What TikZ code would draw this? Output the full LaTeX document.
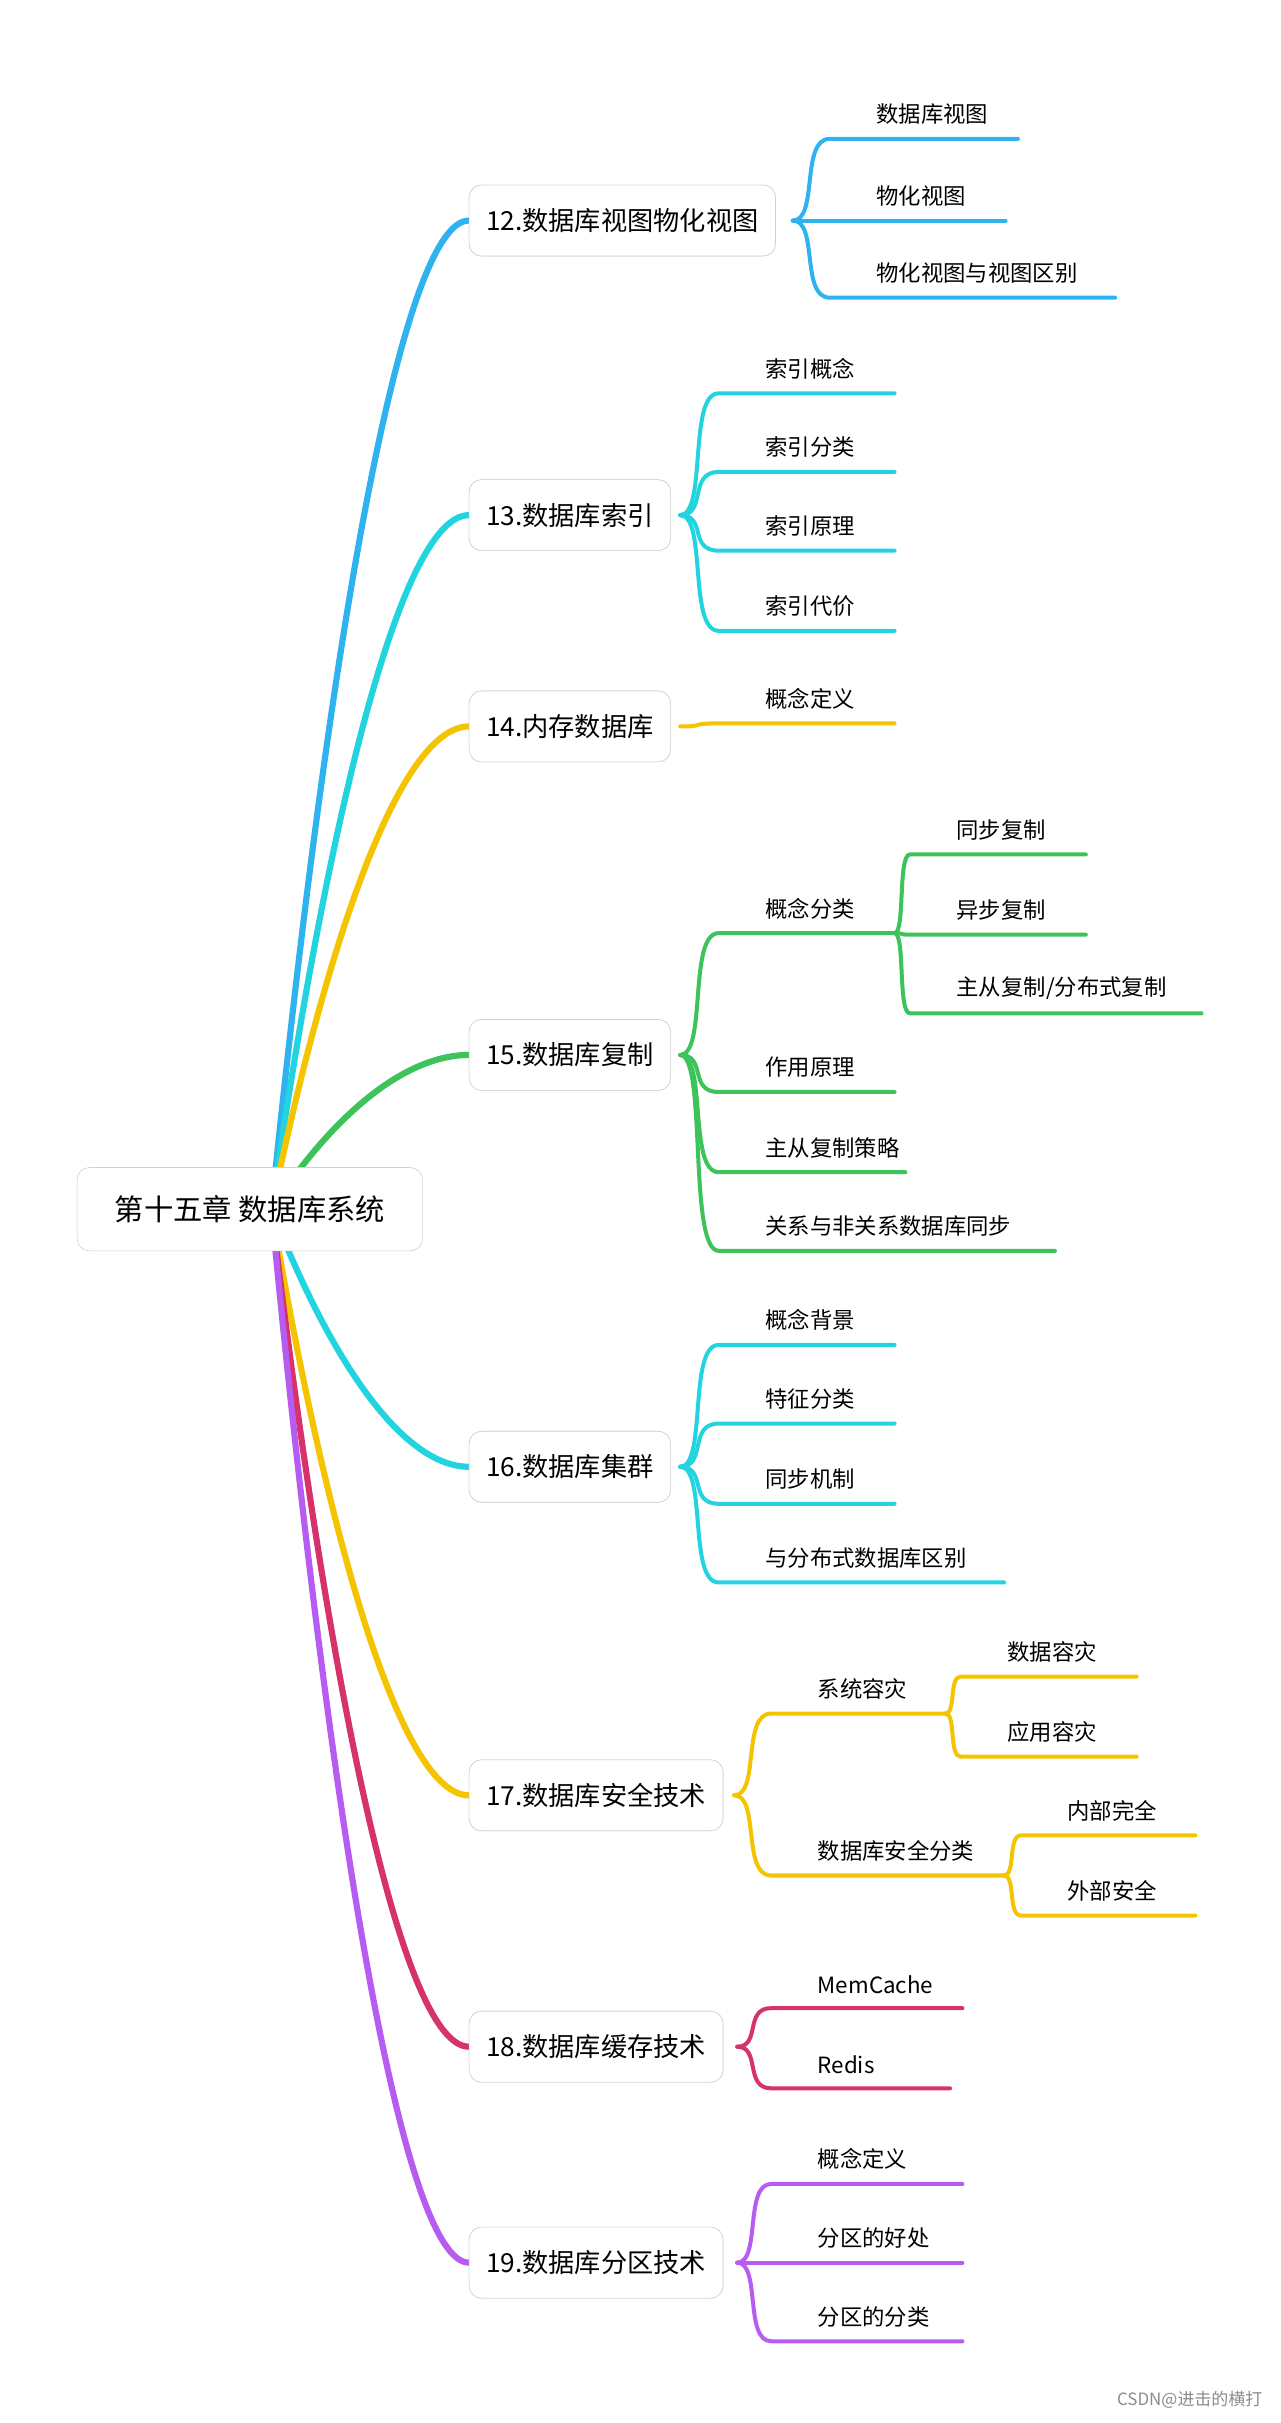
\documentclass[tikz,border=0pt]{standalone}
\usepackage{fontspec}
\setmainfont{Noto Sans CJK SC}
\begin{document}
\begin{tikzpicture}[x=1pt,y=-1pt,
  l1/.style={draw=black!18,fill=white,rounded corners=8pt,minimum height=46pt,inner xsep=11pt,anchor=west,font=\fontsize{17}{20}\selectfont},
  rootbox/.style={draw=black!18,fill=white,rounded corners=8pt,minimum height=54pt,minimum width=224pt,font=\fontsize{19}{22}\selectfont},
  kidtxt/.style={anchor=south west,inner sep=0pt,font=\fontsize{14.5}{17}\selectfont},
  mainline/.style={line width=4pt,line cap=round},
  kidline/.style={line width=2.6pt,line cap=round}]
\definecolor{cblue}{HTML}{2EB3F0}
\definecolor{ccyan}{HTML}{22D3E0}
\definecolor{cyel}{HTML}{F5C400}
\definecolor{cgreen}{HTML}{3CC35A}
\definecolor{cred}{HTML}{D6336C}
\definecolor{cpur}{HTML}{B75CF0}
\useasboundingbox (0,0) rectangle (830,1571);
\fill[white] (0,0) rectangle (830,1571);
% kid: color, px, py, cx, cy, ex, text
\newcommand\kid[7]{%
 \draw[#1,kidline] (#2,#3) .. controls ({#2+0.7*(#4-#2)},#3) and ({#2+0.2*(#4-#2)},#5) .. (#4,#5) -- (#6,#5);
 \node[kidtxt] at ({#4+30},{#5-9}) {#7};}
\coordinate (rs) at (176,784);
\newcommand\mainbr[3]{%
 \draw[#1,mainline] (rs) .. controls (215,{784+0.6*(#2-784)}) and (262,#2) .. (#3.west);}
\path (304,143) node[l1] (n12) {12.数据库视图物化视图}
      (304,334) node[l1] (n13) {13.数据库索引}
      (304,471) node[l1] (n14) {14.内存数据库}
      (304,684) node[l1] (n15) {15.数据库复制}
      (304,951) node[l1] (n16) {16.数据库集群}
      (304,1164) node[l1] (n17) {17.数据库安全技术}
      (304,1327) node[l1] (n18) {18.数据库缓存技术}
      (304,1467) node[l1] (n19) {19.数据库分区技术};
\mainbr{cblue}{143}{n12}
\mainbr{ccyan}{334}{n13}
\mainbr{cyel}{471}{n14}
\mainbr{cgreen}{684}{n15}
\mainbr{ccyan}{951}{n16}
\mainbr{cyel}{1164}{n17}
\mainbr{cred}{1327}{n18}
\mainbr{cpur}{1467}{n19}
\node[rootbox] (root) at (162,784) {第十五章 数据库系统};
\path (304,143) node[l1] {12.数据库视图物化视图}
      (304,334) node[l1] {13.数据库索引}
      (304,471) node[l1] {14.内存数据库}
      (304,684) node[l1] {15.数据库复制}
      (304,951) node[l1] {16.数据库集群}
      (304,1164) node[l1] {17.数据库安全技术}
      (304,1327) node[l1] {18.数据库缓存技术}
      (304,1467) node[l1] {19.数据库分区技术};
% 12
\kid{cblue}{514}{143}{538}{90}{660}{数据库视图}
\kid{cblue}{514}{143}{538}{143}{652}{物化视图}
\kid{cblue}{514}{143}{538}{193}{723}{物化视图与视图区别}
% 13
\kid{ccyan}{441}{334}{466}{255}{580}{索引概念}
\kid{ccyan}{441}{334}{466}{306}{580}{索引分类}
\kid{ccyan}{441}{334}{466}{357}{580}{索引原理}
\kid{ccyan}{441}{334}{466}{409}{580}{索引代价}
% 14
\kid{cyel}{441}{471}{466}{469}{580}{概念定义}
% 15
\kid{cgreen}{441}{684}{466}{605}{580}{概念分类}
\kid{cgreen}{441}{684}{466}{708}{580}{作用原理}
\kid{cgreen}{441}{684}{466}{760}{587}{主从复制策略}
\kid{cgreen}{441}{684}{466}{811}{684}{关系与非关系数据库同步}
\kid{cgreen}{580}{605}{590}{554}{704}{同步复制}
\kid{cgreen}{580}{605}{590}{606}{704}{异步复制}
\kid{cgreen}{580}{605}{590}{657}{779}{主从复制/分布式复制}
% 16
\kid{ccyan}{441}{951}{466}{872}{580}{概念背景}
\kid{ccyan}{441}{951}{466}{923}{580}{特征分类}
\kid{ccyan}{441}{951}{466}{975}{580}{同步机制}
\kid{ccyan}{441}{951}{466}{1026}{651}{与分布式数据库区别}
% 17
\kid{cyel}{476}{1164}{500}{1111}{613}{系统容灾}
\kid{cyel}{476}{1164}{500}{1216}{651}{数据库安全分类}
\kid{cyel}{613}{1111}{623}{1087}{737}{数据容灾}
\kid{cyel}{613}{1111}{623}{1139}{737}{应用容灾}
\kid{cyel}{651}{1216}{662}{1190}{775}{内部完全}
\kid{cyel}{651}{1216}{662}{1242}{775}{外部安全}
% 18
\kid{cred}{478}{1327}{500}{1302}{624}{MemCache}
\kid{cred}{478}{1327}{500}{1354}{616}{Redis}
% 19
\kid{cpur}{478}{1467}{500}{1416}{624}{概念定义}
\kid{cpur}{478}{1467}{500}{1467}{624}{分区的好处}
\kid{cpur}{478}{1467}{500}{1518}{624}{分区的分类}
\node[anchor=east,text=black!45,font=\fontsize{11}{13}\selectfont] (wm) at (822,1556) {CSDN@进击的横打};
\end{tikzpicture}
\end{document}
